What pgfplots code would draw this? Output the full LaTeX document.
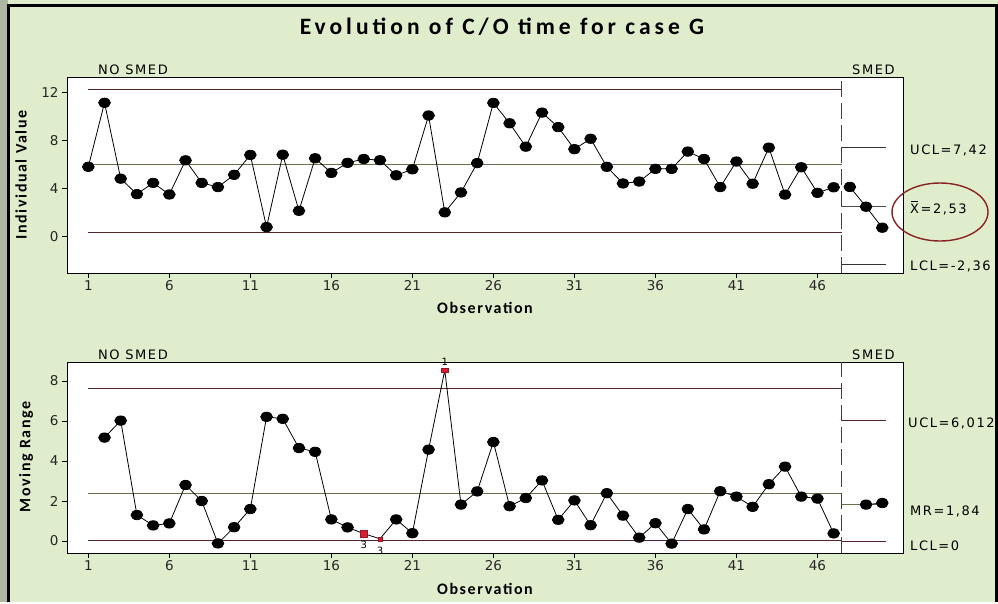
\documentclass[border=0pt]{standalone}
\usepackage{pgfplots}
\pgfplotsset{compat=1.18}
\usepackage{fontspec}
\setmainfont{DejaVu Sans}
\newfontfamily\titlefont[LetterSpace=17]{Carlito}
\newfontfamily\labfont[LetterSpace=10]{Carlito}
\newfontfamily\spaced[LetterSpace=12]{DejaVu Sans}
\definecolor{bg}{RGB}{224,237,205}
\definecolor{strip}{RGB}{172,182,160}
\definecolor{lim}{RGB}{85,35,42}
\definecolor{cen}{RGB}{105,112,78}
\definecolor{circ}{RGB}{135,35,35}
\definecolor{redpt}{RGB}{215,30,50}
\newcommand\xbar{\setbox0\hbox{X}\rlap{\hspace{0.08em}\raisebox{\dimexpr\ht0+1.6pt\relax}{\rule{0.5em}{0.7pt}}}X}

\pgfplotsset{
  spc/.style={
    scale only axis, width=836pt,
    xmin=-0.315, xmax=51.28,
    xtick={1,6,11,16,21,26,31,36,41,46},
    xtick pos=bottom, ytick pos=left,
    tick align=outside, major tick length=5pt,
    tick style={black, line width=0.7pt},
    axis line style={black, line width=0.9pt},
    axis background/.style={fill=white},
    /pgf/number format/assume math mode=true,
    tick label style={font=\fontsize{13.5}{13.5}\selectfont, text=black!85},
    xticklabel style={inner sep=2pt},
  },
  datal/.style={black, line width=0.8pt, mark=*, mark size=4.7pt,
    mark options={xscale=1.25, fill=black, draw=black}},
}

\begin{document}
\begin{tikzpicture}
\begin{scope}[x=1pt,y=-1pt]
\useasboundingbox (0,0) rectangle (998,602);
\fill[bg] (0,0) rectangle (998,602);
\fill[strip] (0,0) rectangle (8,602);
\end{scope}

% ---------- Individual value chart ----------
\begin{axis}[spc, at={(67pt,-77pt)}, anchor=north west, height=196pt,
  ymin=-3.05, ymax=13.3, ytick={0,4,8,12}]
\addplot[lim, line width=0.9pt] coordinates {(1,12.3) (47.5,12.3)};
\addplot[cen, line width=0.9pt] coordinates {(1,6.0) (47.5,6.0)};
\addplot[lim, line width=0.9pt] coordinates {(1,0.3) (47.5,0.3)};
\addplot[black!80, line width=0.9pt] coordinates {(47.5,7.42) (50.2,7.42)};
\addplot[black!70, line width=0.9pt] coordinates {(47.5,2.53) (50.2,2.53)};
\addplot[black!80, line width=0.9pt] coordinates {(47.5,-2.36) (50.2,-2.36)};
\addplot[black!75, line width=1pt, dash pattern=on 16pt off 6pt] coordinates {(47.5,-3.05) (47.5,13.3)};
\addplot[datal] table {
x y
1 5.81
2 11.15
3 4.82
4 3.53
5 4.47
6 3.50
7 6.35
8 4.47
9 4.12
10 5.14
11 6.80
12 0.78
13 6.82
14 2.14
15 6.52
16 5.30
17 6.14
18 6.46
19 6.36
20 5.10
21 5.60
22 10.09
23 2.01
24 3.67
25 6.12
26 11.14
27 9.44
28 7.49
29 10.33
30 9.12
31 7.28
32 8.15
33 5.81
34 4.42
35 4.58
36 5.64
37 5.64
38 7.08
39 6.46
40 4.12
41 6.25
42 4.40
43 7.41
44 3.49
45 5.77
46 3.64
47 4.10
};
\addplot[datal] table {
x y
48 4.13
49 2.48
50 0.73
};
\end{axis}

% ---------- Moving range chart ----------
\begin{axis}[spc, at={(67pt,-362pt)}, anchor=north west, height=191pt,
  ymin=-0.6, ymax=8.95, ytick={0,2,4,6,8}, clip=false]
\addplot[lim, line width=0.9pt] coordinates {(1,7.65) (47.5,7.65)};
\addplot[cen, line width=0.9pt] coordinates {(1,2.4) (47.5,2.4)};
\addplot[lim, line width=0.9pt] coordinates {(1,0.03) (47.5,0.03)};
\addplot[lim, line width=0.9pt] coordinates {(47.5,6.012) (50.2,6.012)};
\addplot[cen, line width=0.9pt] coordinates {(47.5,1.84) (50.2,1.84)};
\addplot[lim, line width=0.9pt] coordinates {(47.5,0) (50.2,0)};
\addplot[black!75, line width=1pt, dash pattern=on 16pt off 6pt] coordinates {(47.5,-0.6) (47.5,8.95)};
\addplot[datal, mark indices={1,...,16,19,20,21,23,24,...,46}] table {
x y
2 5.17
3 6.02
4 1.30
5 0.78
6 0.88
7 2.80
8 2.00
9 -0.12
10 0.69
11 1.60
12 6.21
13 6.11
14 4.65
15 4.46
16 1.08
17 0.68
18 0.37
19 0.11
20 1.08
21 0.39
22 4.57
23 8.54
24 1.82
25 2.48
26 4.95
27 1.74
28 2.15
29 3.03
30 1.06
31 2.03
32 0.79
33 2.39
34 1.27
35 0.17
36 0.89
37 -0.13
38 1.60
39 0.58
40 2.49
41 2.22
42 1.71
43 2.84
44 3.72
45 2.22
46 2.12
47 0.38
};
\addplot[datal] table {
x y
49 1.82
50 1.90
};
% out-of-control points
\addplot[only marks, mark=square*, mark size=3.6pt, mark options={fill=redpt, draw=redpt!70!black}] coordinates {(18,0.37)};
\addplot[only marks, mark=square*, mark size=2pt, mark options={fill=redpt, draw=redpt!70!black}] coordinates {(19,0.11)};
\addplot[only marks, mark=square*, mark size=3pt, mark options={fill=redpt, draw=redpt!70!black, yscale=0.6, xscale=1.3}] coordinates {(23,8.54)};
\node[font=\fontsize{10}{10}\selectfont, anchor=north, inner sep=1pt] at (axis cs:18,0.05) {3};
\node[font=\fontsize{10}{10}\selectfont, anchor=north, inner sep=1pt] at (axis cs:19,-0.25) {3};
\node[font=\fontsize{10}{10}\selectfont, anchor=south, inner sep=1pt] at (axis cs:23,8.7) {1};
\end{axis}

\begin{scope}[x=1pt,y=-1pt]
\draw[black, line width=3pt] (8.5,602) -- (8.5,5) -- (996.5,5) -- (996.5,602);
\node[anchor=base, inner sep=0, font=\titlefont\bfseries\fontsize{23.5}{23.5}\selectfont] at (502,34) {Evolution of C/O time for case G};
\node[anchor=base west, inner sep=0, font=\spaced\fontsize{13}{13}\selectfont] at (98,74) {NO SMED};
\node[anchor=base west, inner sep=0, font=\spaced\fontsize{13}{13}\selectfont] at (852,74) {SMED};
\node[anchor=base west, inner sep=0, font=\spaced\fontsize{13}{13}\selectfont] at (98,359) {NO SMED};
\node[anchor=base west, inner sep=0, font=\spaced\fontsize{13}{13}\selectfont] at (852,359) {SMED};
\node[anchor=base, inner sep=0, font=\labfont\bfseries\fontsize{16}{16}\selectfont] at (485,313) {Observation};
\node[anchor=base, inner sep=0, font=\labfont\bfseries\fontsize{16}{16}\selectfont] at (485,594) {Observation};
\node[rotate=90, inner sep=0, font=\labfont\bfseries\fontsize{16}{16}\selectfont] at (21,175) {Individual Value};
\node[rotate=90, inner sep=0, font=\labfont\bfseries\fontsize{16}{16}\selectfont] at (26,457) {Moving Range};
\node[anchor=west, inner sep=0, font=\spaced\fontsize{13}{13}\selectfont] at (910,150) {UCL=7,42};
\node[anchor=west, inner sep=0, font=\spaced\fontsize{13}{13}\selectfont] at (910,208) {\xbar=2,53};
\node[anchor=west, inner sep=0, font=\spaced\fontsize{13}{13}\selectfont] at (910,266) {LCL=-2,36};
\node[anchor=west, inner sep=0, font=\spaced\fontsize{13}{13}\selectfont] at (908,423) {UCL=6,012};
\node[anchor=west, inner sep=0, font=\spaced\fontsize{13}{13}\selectfont] at (910,511) {MR=1,84};
\node[anchor=west, inner sep=0, font=\spaced\fontsize{13}{13}\selectfont] at (910,546) {LCL=0};
\draw[circ, line width=1.4pt] (940,212) ellipse [x radius=48, y radius=29];
\end{scope}
\end{tikzpicture}
\end{document}
